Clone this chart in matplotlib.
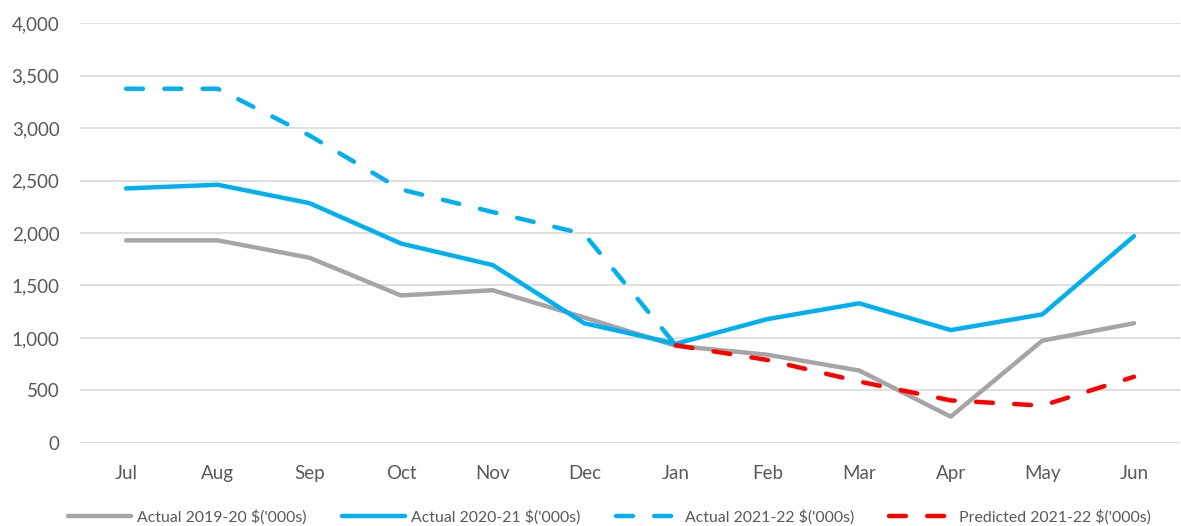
import matplotlib.pyplot as plt
from matplotlib.ticker import FuncFormatter

plt.rcParams['font.family'] = ['Lato', 'DejaVu Sans']

months = ['Jul', 'Aug', 'Sep', 'Oct', 'Nov', 'Dec', 'Jan', 'Feb', 'Mar', 'Apr', 'May', 'Jun']
actual_1920 = [1930, 1930, 1765, 1405, 1455, 1195, 925, 840, 690, 250, 975, 1140]
actual_2021 = [2425, 2460, 2285, 1900, 1695, 1140, 945, 1180, 1330, 1075, 1225, 1970]
actual_2122 = [3375, 3375, 2930, 2415, 2200, 1990, 930]
predicted_2122 = [None] * 6 + [930, 790, 585, 405, 355, 630]

x = list(range(len(months)))
fig = plt.figure(figsize=(11.81, 5.26), dpi=100)
ax = fig.add_axes([0.068, 0.158, 0.931, 0.798])

ax.plot(x, actual_1920, color='#A5A5A5', lw=3.2, solid_capstyle='round',
        solid_joinstyle='round', label="Actual 2019-20 $('000s)")
ax.plot(x, actual_2021, color='#00B0F0', lw=3.2, solid_capstyle='round',
        solid_joinstyle='round', label="Actual 2020-21 $('000s)")
ax.plot(x[:len(actual_2122)], actual_2122, color='#00B0F0', lw=3.2, dashes=(3.8, 4.8),
        dash_capstyle='round', label="Actual 2021-22 $('000s)")
px = [i for i, v in zip(x, predicted_2122) if v is not None]
pv = [v for v in predicted_2122 if v is not None]
ax.plot(px, pv, color='#FF0000', lw=3.2, dashes=(3.8, 4.8), dash_capstyle='round',
        label="Predicted 2021-22 $('000s)")

ax.set_xlim(-0.5, 11.5)
ax.set_ylim(0, 4000)
ax.set_yticks(range(0, 4001, 500))
ax.yaxis.set_major_formatter(FuncFormatter(lambda v, p: f'{int(v):,}'))
ax.set_xticks(x)
ax.set_xticklabels(months)
ax.grid(axis='y', color='#D9D9D9', lw=1.2)
ax.set_axisbelow(True)
for s in ax.spines.values():
    s.set_visible(False)
ax.tick_params(length=0, labelsize=13.5, colors='#595959')
ax.tick_params(axis='x', pad=16)
ax.tick_params(axis='y', pad=15)

leg = fig.legend(loc='lower center', ncol=4, frameon=False, fontsize=11.4,
                 bbox_to_anchor=(0.516, -0.024), handlelength=4.0, columnspacing=2.2,
                 handletextpad=0.4)
for t in leg.get_texts():
    t.set_color('#595959')

fig.savefig('out.png', dpi=100)
